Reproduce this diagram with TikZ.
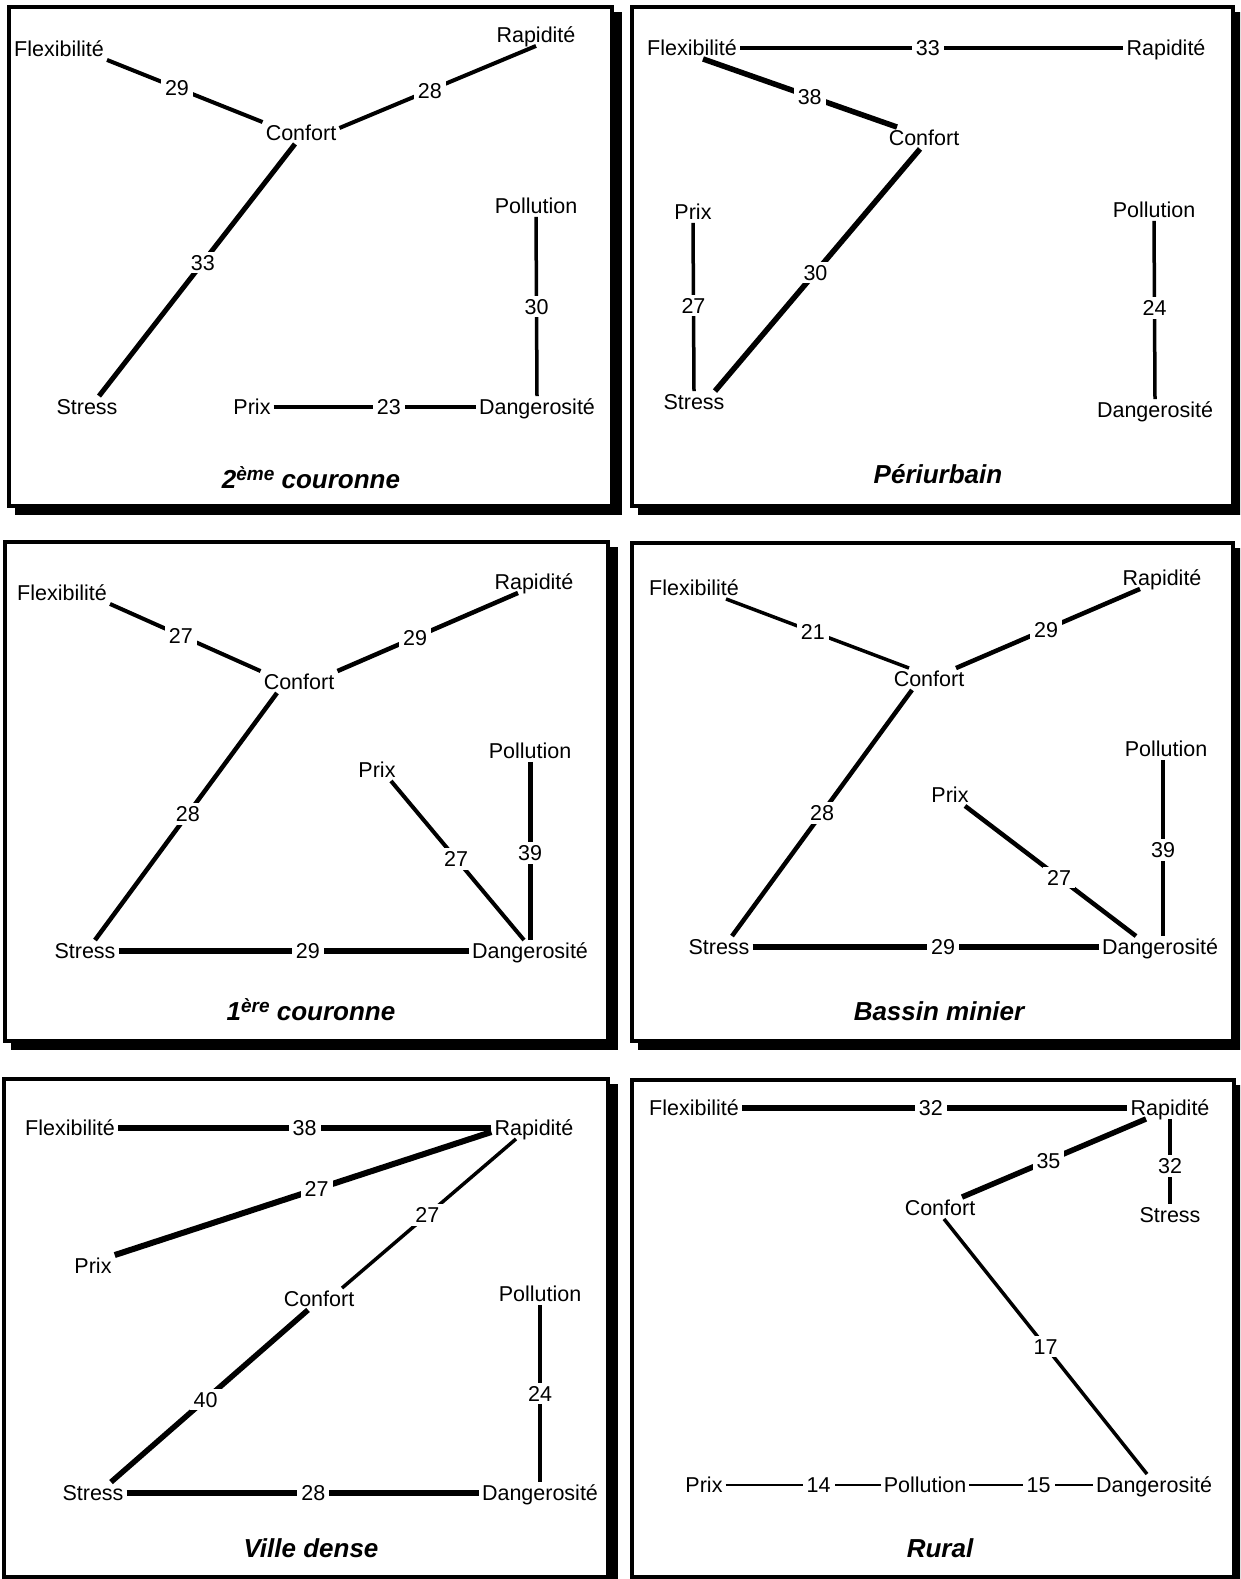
\documentclass[tikz,border=0pt]{standalone}
\usepackage{fontspec}
\setmainfont{Liberation Sans}
\newcommand\supx[1]{\raisebox{8pt}{\fontsize{19}{19}\selectfont #1}}
\begin{document}
\begin{tikzpicture}[x=1pt,y=-1pt,
  txt/.style={font=\fontsize{21.5}{24}\selectfont, inner sep=3pt, text height=15.5pt, text depth=0pt},
  num/.style={font=\fontsize{21.5}{24}\selectfont, fill=white, inner xsep=4pt, inner ysep=3pt, text height=15.5pt, text depth=0pt},
  ttl/.style={font=\fontsize{26}{30}\selectfont\bfseries\itshape, anchor=base, inner sep=0pt},
  lk/.style={draw=black, line width=#1},
  frm/.style={draw=black, line width=3.5pt, fill=white},
  shd/.style={fill=black}]
\useasboundingbox (0,0) rectangle (1240,1579);
\clip (0,0) rectangle (1240,1579);
\fill[white] (0,0) rectangle (1240,1579);
% frames with shadows
\fill[shd] (15,12) rectangle (622,515);
\draw[frm] (9,7) rectangle (612,506);
\fill[shd] (638,12) rectangle (1243,515);
\draw[frm] (632,7) rectangle (1233,506);
\fill[shd] (11,547) rectangle (618,1050);
\draw[frm] (5,542) rectangle (608,1041);
\fill[shd] (638,548) rectangle (1243,1050);
\draw[frm] (632,543) rectangle (1233,1041);
\fill[shd] (10,1084) rectangle (618,1586);
\draw[frm] (4,1079) rectangle (608,1577);
\fill[shd] (638,1085) rectangle (1244,1586);
\draw[frm] (632,1080) rectangle (1234,1577);

% ---------- Panel 1: 2eme couronne
\node[txt] (a1) at (59,49) {Flexibilité};
\node[txt] (b1) at (536,35) {Rapidité};
\node[txt] (c1) at (301,133) {Confort};
\node[txt] (d1) at (536,206) {Pollution};
\node[txt] (e1) at (87,407) {Stress};
\node[txt] (f1) at (252,407) {Prix};
\node[txt] (g1) at (537,407) {Dangerosité};
\node[ttl] (t1) at (311,488) {2\supx{ème} couronne};
\draw[lk=4pt] (a1.south east) -- node[num,pos=.45]{29} (c1.north west);
\draw[lk=4pt] ([yshift=5pt]c1.east) -- node[num,pos=.46]{28} (b1.south);
\draw[lk=5pt] ([xshift=-6pt]c1.south) -- node[num,pos=.47]{33} ([xshift=12pt]e1.north);
\draw[lk=3.5pt] (d1.south) -- node[num,pos=.5]{30} (g1.north);
\draw[lk=3.5pt] (f1.east) -- node[num,pos=.57]{23} (g1.west);

% ---------- Panel 2: Periurbain
\node[txt] (a2) at (692,48) {Flexibilité};
\node[txt] (b2) at (1166,48) {Rapidité};
\node[txt] (c2) at (924,138) {Confort};
\node[txt] (h2) at (693,212) {Prix};
\node[txt] (d2) at (1154,210) {Pollution};
\node[txt] (e2) at (694,402) {Stress};
\node[txt] (g2) at (1155,410) {Dangerosité};
\node[ttl] (t2) at (938,483) {Périurbain};
\draw[lk=4.5pt] (a2.east) -- node[num,pos=.49]{33} (b2.west);
\draw[lk=5.5pt] ([xshift=11pt]a2.south) -- node[num,pos=.55]{38} ([xshift=-27pt]c2.north);
\draw[lk=5.5pt] ([xshift=-4pt]c2.south) -- node[num,pos=.51]{30} ([xshift=21pt]e2.north);
\draw[lk=3.5pt] (h2.south) -- node[num,pos=.49]{27} (e2.north);
\draw[lk=3.5pt] (d2.south) -- node[num,pos=.49]{24} (g2.north);

% ---------- Panel 3: 1ere couronne
\node[txt] (a3) at (62,593) {Flexibilité};
\node[txt] (b3) at (534,582) {Rapidité};
\node[txt] (c3) at (299,682) {Confort};
\node[txt] (h3) at (377,770) {Prix};
\node[txt] (d3) at (530,751) {Pollution};
\node[txt] (e3) at (85,951) {Stress};
\node[txt] (g3) at (530,951) {Dangerosité};
\node[ttl] (t3) at (311,1020) {1\supx{ère} couronne};
\draw[lk=4pt] (a3.south east) -- node[num,pos=.47]{27} (c3.north west);
\draw[lk=4.5pt] (c3.north east) -- node[num,pos=.43]{29} ([xshift=-16pt]b3.south);
\draw[lk=4.5pt] ([xshift=-22pt]c3.south) -- node[num,pos=.49]{28} ([xshift=10pt]e3.north);
\draw[lk=4pt] ([xshift=14pt]h3.south) -- node[num,pos=.49]{27} ([xshift=-6pt]g3.north);
\draw[lk=5pt] (d3.south) -- node[num,pos=.51]{39} (g3.north);
\draw[lk=5.5pt] (e3.east) -- node[num,pos=.54]{29} (g3.west);

% ---------- Panel 4: Bassin minier
\node[txt] (a4) at (694,588) {Flexibilité};
\node[txt] (b4) at (1162,578) {Rapidité};
\node[txt] (c4) at (929,679) {Confort};
\node[txt] (h4) at (950,795) {Prix};
\node[txt] (d4) at (1166,749) {Pollution};
\node[txt] (e4) at (719,947) {Stress};
\node[txt] (g4) at (1160,947) {Dangerosité};
\node[ttl] (t4) at (939,1020) {Bassin minier};
\draw[lk=3.5pt] ([xshift=32pt]a4.south) -- node[num,pos=.475]{21} ([xshift=-20pt]c4.north);
\draw[lk=4.5pt] ([xshift=27pt]c4.north) -- node[num,pos=.49]{29} ([xshift=-22pt]b4.south);
\draw[lk=4.5pt] ([xshift=-17pt]c4.south) -- node[num,pos=.5]{28} ([xshift=13pt]e4.north);
\draw[lk=4.5pt] ([xshift=15pt]h4.south) -- node[num,pos=.55]{27} ([xshift=-24pt]g4.north);
\draw[lk=4.5pt] ([xshift=-3pt]d4.south) -- node[num,pos=.51]{39} ([xshift=3pt]g4.north);
\draw[lk=5.5pt] (e4.east) -- node[num,pos=.55]{29} (g4.west);

% ---------- Panel 5: Ville dense
\node[txt] (a5) at (70,1128) {Flexibilité};
\node[txt] (b5) at (534,1128) {Rapidité};
\node[txt] (h5) at (93,1266) {Prix};
\node[txt] (c5) at (319,1299) {Confort};
\node[txt] (d5) at (540,1294) {Pollution};
\node[txt] (e5) at (93,1493) {Stress};
\node[txt] (g5) at (540,1493) {Dangerosité};
\node[ttl] (t5) at (311,1557) {Ville dense};
\draw[lk=6.5pt] (a5.east) -- node[num,pos=.5]{38} (b5.west);
\draw[lk=6pt] (h5.north east) -- node[num,pos=.536]{27} ([yshift=-4pt]b5.west);
\draw[lk=3.5pt] ([xshift=23pt]c5.north) -- node[num,pos=.49]{27} ([xshift=-18pt]b5.south);
\draw[lk=5.5pt] ([xshift=-11pt]c5.south) -- node[num,pos=.52]{40} ([xshift=18pt]e5.north);
\draw[lk=3.5pt] (d5.south) -- node[num,pos=.5]{24} (g5.north);
\draw[lk=5.5pt] (e5.east) -- node[num,pos=.53]{28} (g5.west);

% ---------- Panel 6: Rural
\node[txt] (a6) at (694,1108) {Flexibilité};
\node[txt] (b6) at (1170,1108) {Rapidité};
\node[txt] (c6) at (940,1208) {Confort};
\node[txt] (e6) at (1170,1215) {Stress};
\node[txt] (h6) at (704,1485) {Prix};
\node[txt] (d6) at (925,1485) {Pollution};
\node[txt] (g6) at (1154,1485) {Dangerosité};
\node[ttl] (t6) at (940,1557) {Rural};
\draw[lk=6.5pt] (a6.east) -- node[num,pos=.49]{32} (b6.west);
\draw[lk=5.5pt] ([xshift=22pt]c6.north) -- node[num,pos=.47]{35} ([xshift=-24pt]b6.south);
\draw[lk=3.5pt] (b6.south) -- node[num,pos=.55]{32} (e6.north);
\draw[lk=3.5pt] ([xshift=4pt]c6.south) -- node[num,pos=.5]{17} ([xshift=-7pt]g6.north);
\draw[lk=2.5pt] (h6.east) -- node[num,pos=.6]{14} (d6.west);
\draw[lk=2.5pt] (d6.east) -- node[num,pos=.56]{15} (g6.west);
\end{tikzpicture}
\end{document}
